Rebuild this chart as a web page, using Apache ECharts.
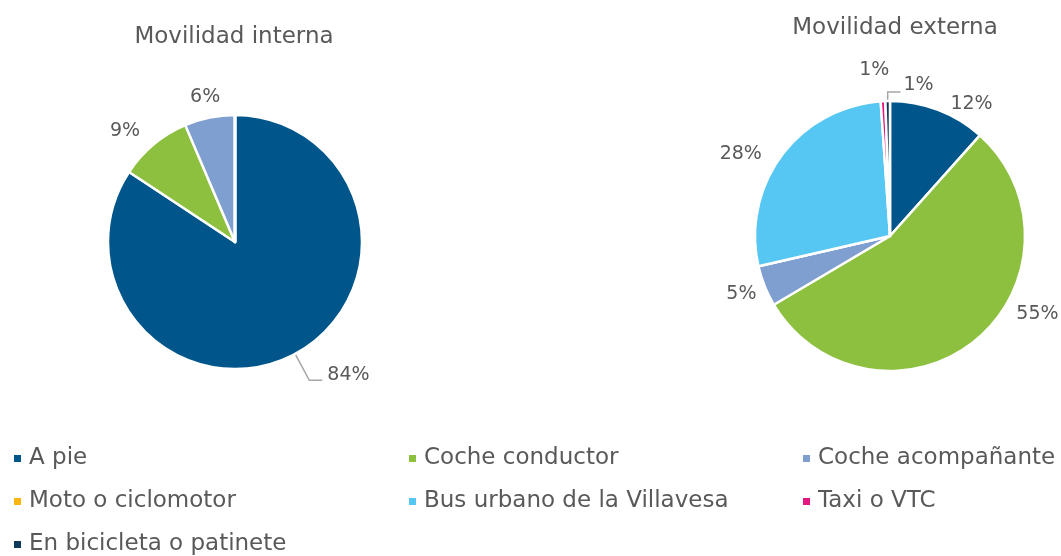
<!DOCTYPE html>
<html lang="es">
<head>
    <meta charset="UTF-8">
    <title>Movilidad interna y externa</title>
    <script src="https://cdn.jsdelivr.net/npm/echarts@6/dist/echarts.min.js"></script>
    <style>
        html, body { margin: 0; padding: 0; background: #fff; }
        #chart { width: 1061px; height: 556px; }
    </style>
</head>
<body>
<div id="chart"></div>
<script>
    // modos de transporte (orden de la leyenda)
    var modos = ['A pie', 'Coche conductor', 'Coche acompañante', 'Moto o ciclomotor',
        'Bus urbano de la Villavesa', 'Taxi o VTC', 'En bicicleta o patinete'];
    var colores = ['#00558a', '#8dc03f', '#7f9fd1', '#f9b612', '#56c7f2', '#e3177f', '#0e3a5b'];
    // porcentajes
    var interna = [84.3, 9.3, 6.4, 0, 0, 0, 0];
    var externa = [11.6, 54.9, 4.9, 0, 27.5, 0.55, 0.55];

    var gris = '#595959';
    var fuente = 'DejaVu Sans';

    // ajustes de posicion de las etiquetas (desplazamiento respecto a la posicion por defecto)
    var ajusteInterna = {'Coche conductor': [7, -4], 'Coche acompañante': [26, -9]};
    var ajusteExterna = {
        'A pie': [-5, 5], 'Coche conductor': [20, -35], 'Coche acompañante': [16, 4],
        'Bus urbano de la Villavesa': [3, 6], 'Taxi o VTC': [20, -19]
    };
    // etiquetas con linea guia: [length, length2, altura de linea del texto]
    var lineaInterna = {'A pie': [30, 13, 10]};
    var lineaExterna = {'En bicicleta o patinete': [9, -13, 14]};

    function datos(valores, lineas) {
        return modos.map(function (m, i) {
            var d = {
                name: m,
                value: valores[i],
                itemStyle: {color: colores[i]},
                label: {show: valores[i] > 0},
                labelLine: {show: false}
            };
            if (lineas[m]) {
                d.labelLine = {show: true, length: lineas[m][0], length2: lineas[m][1]};
                d.label.lineHeight = lineas[m][2];
                if (lineas[m][1] < 0) d.label.padding = [0, 0, 0, 8];
            }
            return d;
        });
    }

    function serie(valores, lineas, ajustes, centro, radio) {
        return {
            type: 'pie',
            center: centro,
            radius: radio,
            startAngle: 90,
            clockwise: true,
            avoidLabelOverlap: false,
            animation: false,
            itemStyle: {borderColor: '#fff', borderWidth: 2.5},
            label: {
                position: 'outside',
                color: gris,
                fontFamily: fuente,
                fontSize: 19,
                formatter: function (p) { return Math.round(p.value) + '%'; }
            },
            labelLine: {length: 12, length2: 8, lineStyle: {color: '#a6a6a6', width: 1.5}},
            labelLayout: function (p) {
                var m = modos[p.dataIndex];
                if (lineas[m]) {
                    return {align: 'left', verticalAlign: 'bottom'};
                }
                var a = ajustes[m];
                if (!a) return {};
                var r = p.labelRect;
                return {
                    align: 'center',
                    verticalAlign: 'middle',
                    x: r.x + r.width / 2 + a[0],
                    y: r.y + r.height / 2 + a[1]
                };
            },
            emphasis: {disabled: true},
            data: datos(valores, lineas)
        };
    }

    function leyenda(x, nombres) {
        return {
            orient: 'vertical',
            left: x,
            top: 447,
            padding: 0,
            itemWidth: 9,
            itemHeight: 9,
            itemGap: 20,
            icon: 'rect',
            selectedMode: false,
            textStyle: {color: gris, fontFamily: fuente, fontSize: 23, padding: [0, 0, 0, 2]},
            data: nombres
        };
    }

    var chart = echarts.init(document.getElementById('chart'));
    chart.setOption({
        backgroundColor: '#fff',
        title: [
            {text: 'Movilidad interna', left: 229, top: 21, textAlign: 'center',
                textStyle: {color: gris, fontFamily: fuente, fontSize: 23, fontWeight: 'normal'}},
            {text: 'Movilidad externa', left: 890, top: 12, textAlign: 'center',
                textStyle: {color: gris, fontFamily: fuente, fontSize: 23, fontWeight: 'normal'}}
        ],
        legend: [
            leyenda(12, [modos[0], modos[3], modos[6]]),
            leyenda(407, [modos[1], modos[4]]),
            leyenda(801, [modos[2], modos[5]])
        ],
        series: [
            serie(interna, lineaInterna, ajusteInterna, [235, 242], 127),
            serie(externa, lineaExterna, ajusteExterna, [890, 236], 135)
        ]
    });
</script>
</body>
</html>
